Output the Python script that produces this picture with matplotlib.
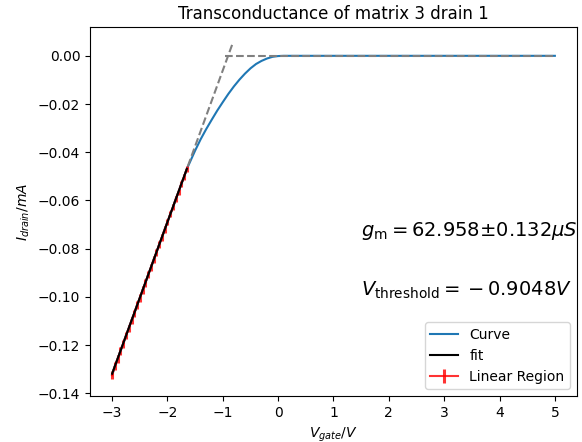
import numpy as np
import matplotlib.pyplot as plt

# gate sweep in the linear region (V) and drain current (mA)
v_lin = [-3.00, -2.95, -2.90, -2.85, -2.80, -2.75, -2.70, -2.65, -2.60, -2.55,
         -2.50, -2.45, -2.40, -2.35, -2.30, -2.25, -2.20, -2.15, -2.10, -2.05,
         -2.00, -1.95, -1.90, -1.85, -1.80, -1.75, -1.70, -1.65]
i_lin = [-0.1325, -0.1287, -0.1258, -0.1224, -0.1195, -0.1161, -0.1131, -0.1098, -0.1069, -0.1035,
         -0.1005, -0.0972, -0.0943, -0.0909, -0.0879, -0.0846, -0.0817, -0.0783, -0.0753, -0.0720,
         -0.0690, -0.0657, -0.0628, -0.0594, -0.0565, -0.0531, -0.0502, -0.0469]
i_err = [0.0017, 0.0017, 0.0017, 0.0017, 0.0016, 0.0016, 0.0016, 0.0016, 0.0016, 0.0016,
         0.0015, 0.0015, 0.0015, 0.0015, 0.0015, 0.0015, 0.0014, 0.0014, 0.0014, 0.0014,
         0.0014, 0.0013, 0.0013, 0.0013, 0.0013, 0.0013, 0.0012, 0.0012]

# rest of the sweep
v_rest = [-1.6, -1.5, -1.4, -1.3, -1.2, -1.1, -1.0, -0.9, -0.8, -0.7, -0.6,
          -0.5, -0.4, -0.3, -0.2, -0.1, 0.0, 0.1,
          0.5, 1.0, 1.5, 2.0, 2.5, 3.0, 3.5, 4.0, 4.5, 5.0]
i_rest = [-0.0444, -0.0393, -0.0346, -0.0304, -0.0265, -0.0227, -0.0192, -0.0158, -0.0127, -0.0099, -0.0074,
          -0.0052, -0.0034, -0.0021, -0.0011, -0.0004, -0.0001, 0.0,
          0.0, 0.0, 0.0, 0.0, 0.0, 0.0, 0.0, 0.0, 0.0, 0.0]

gm = 62.958       # uS
gm_err = 0.132    # uS
v_th = -0.9048    # V

v_lin = np.array(v_lin)
i_lin = np.array(i_lin)
v_gate = np.concatenate([v_lin, v_rest])
i_drain = np.concatenate([i_lin, i_rest])

def fit(v):
    return gm * 1e-3 * (v - v_th)

fig = plt.figure(figsize=(5.82, 4.42), dpi=100)
ax = fig.add_axes([90/582, 46/442, 487/582, 369/442])

ax.plot(v_gate, i_drain, label='Curve')
ax.plot(v_lin, fit(v_lin), color='black', label='fit', zorder=3)
ax.errorbar(v_lin, i_lin, yerr=i_err, color='red', alpha=0.8, lw=1.5,
            elinewidth=2.2, label='Linear Region')

# tangent extension and off-current baseline
v_ext = np.array([v_gate[0], v_th + 0.005 / (gm * 1e-3)])
ax.plot(v_ext, fit(v_ext), '--', color='grey')
ax.plot([v_th - 0.05, v_gate[-1]], [0, 0], '--', color='grey')

ax.text(1.5, -0.0725, r'$g_\mathrm{m} = %.3f$±$%.3f \mu S$' % (gm, gm_err),
        fontsize=14, va='center')
ax.text(1.5, -0.0975, r'$V_\mathrm{threshold} = {}%.4fV$' % v_th,
        fontsize=14, va='center')

ax.set_title('Transconductance of matrix 3 drain 1')
ax.set_xlabel(r'$V_{gate}/V$')
ax.set_ylabel(r'$I_{drain}/mA$')
ax.legend(loc='lower right')

fig.savefig('out.png')
